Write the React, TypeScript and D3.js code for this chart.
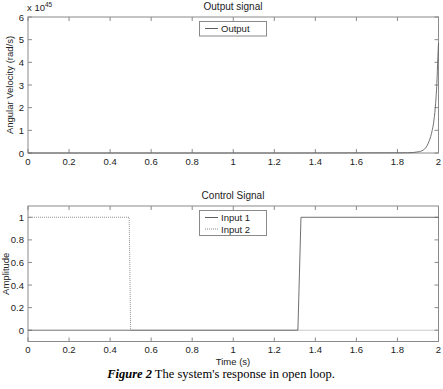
import React from "react";
import * as d3 from "d3";

const W = 443;
const H = 389;

// Output signal (angular velocity, in units of 1e45 rad/s)
const outTime = [0, 1.3, 1.85, 1.9, 1.926, 1.95, 1.966, 1.978, 1.986, 1.992, 1.997, 2.0];
const outValue = [0, 0, 0.01, 0.05, 0.13, 0.43, 0.87, 1.46, 2.19, 3.07, 4.25, 4.85];

// Control signals
const in1Time = [0, 1.315, 1.33, 2.0];
const in1Value = [0, 0, 1, 1];
const in2Time = [0, 0.493, 0.5, 2.0];
const in2Value = [1, 1, 0, 0];

const xTicks = [0, 0.2, 0.4, 0.6, 0.8, 1, 1.2, 1.4, 1.6, 1.8, 2];
const yTicksTop = [0, 1, 2, 3, 4, 5, 6];
const yTicksBottom = [0, 0.2, 0.4, 0.6, 0.8, 1];

const FONT = "Liberation Sans, Arial, sans-serif";
const AXIS = "#8a8a8a";
const LINE = "#606060";
const TEXT = "#222";

function Axes({ x, y, xTicks, yTicks, top, bottom, left, right, yFmt }: any) {
  const tl = 4;
  return (
    <g>
      <rect x={left} y={top} width={right - left} height={bottom - top} fill="none" stroke={AXIS} strokeWidth={1} />
      {xTicks.map((t: number) => (
        <g key={"x" + t}>
          <line x1={x(t)} x2={x(t)} y1={bottom} y2={bottom - tl} stroke={AXIS} />
          <line x1={x(t)} x2={x(t)} y1={top} y2={top + tl} stroke={AXIS} />
          <text x={x(t)} y={bottom + 11.5} textAnchor="middle" fontSize={9.5} fontFamily={FONT} fill={TEXT}>
            {d3.format("~g")(t)}
          </text>
        </g>
      ))}
      {yTicks.map((t: number) => (
        <g key={"y" + t}>
          <line x1={left} x2={left + tl} y1={y(t)} y2={y(t)} stroke={AXIS} />
          <line x1={right} x2={right - tl} y1={y(t)} y2={y(t)} stroke={AXIS} />
          <text x={left - 4} y={y(t) + 3.5} textAnchor="end" fontSize={9.5} fontFamily={FONT} fill={TEXT}>
            {yFmt(t)}
          </text>
        </g>
      ))}
    </g>
  );
}

export default function App() {
  const left = 28;
  const right = 438.5;

  const x = d3.scaleLinear().domain([0, 2]).range([left, right]);

  const t1 = 17, b1 = 153;
  const y1 = d3.scaleLinear().domain([0, 6]).range([b1, t1]);
  const t2 = 206, b2 = 341.5;
  const y2 = d3.scaleLinear().domain([-0.1, 1.1]).range([b2, t2]);

  const lineOut = d3.line<number>().x((_, i) => x(outTime[i])).y((v) => y1(v)).curve(d3.curveMonotoneX);
  const lineIn1 = d3.line<number>().x((_, i) => x(in1Time[i])).y((v) => y2(v));
  const lineIn2 = d3.line<number>().x((_, i) => x(in2Time[i])).y((v) => y2(v));

  return (
    <svg width={W} height={H} style={{ position: "absolute", left: 0, top: 0, background: "#fff" }}>
      <rect width={W} height={H} fill="#fff" />
      {/* Top plot */}
      <text x={233} y={10} textAnchor="middle" fontSize={10} fontFamily={FONT} fill={TEXT}>Output signal</text>
      <text x={27} y={11} fontSize={9.5} fontFamily={FONT} fill={TEXT}>
        x 10<tspan dy={-4} fontSize={6.5}>45</tspan>
      </text>
      <Axes x={x} y={y1} xTicks={xTicks} yTicks={yTicksTop} top={t1} bottom={b1} left={left} right={right} yFmt={d3.format("~g")} />
      <path d={lineOut(outValue) || ""} fill="none" stroke={LINE} strokeWidth={0.9} />
      <text transform={`translate(13,${(t1 + b1) / 2}) rotate(-90)`} textAnchor="middle" fontSize={9.5} fontFamily={FONT} fill={TEXT}>
        Angular Velocity (rad/s)
      </text>
      <g>
        <rect x={199.5} y={21.5} width={67} height={14.5} fill="#fff" stroke={AXIS} />
        <line x1={205} x2={218} y1={28.5} y2={28.5} stroke={LINE} />
        <text x={221} y={32} fontSize={9.5} fontFamily={FONT} fill={TEXT}>Output</text>
      </g>

      {/* Bottom plot */}
      <text x={233} y={199} textAnchor="middle" fontSize={10} fontFamily={FONT} fill={TEXT}>Control Signal</text>
      <Axes x={x} y={y2} xTicks={xTicks} yTicks={yTicksBottom} top={t2} bottom={b2} left={left} right={right} yFmt={d3.format("~g")} />
      <path d={lineIn2(in2Value) || ""} fill="none" stroke="#888" strokeWidth={0.9} strokeDasharray="1,1" />
      <path d={lineIn1(in1Value) || ""} fill="none" stroke={LINE} strokeWidth={0.9} />
      <text transform={`translate(9,${(t2 + b2) / 2}) rotate(-90)`} textAnchor="middle" fontSize={9.5} fontFamily={FONT} fill={TEXT}>
        Amplitude
      </text>
      <g>
        <rect x={199.5} y={210.5} width={67} height={25} fill="#fff" stroke={AXIS} />
        <line x1={205} x2={218} y1={217.5} y2={217.5} stroke={LINE} />
        <text x={221} y={221} fontSize={9.5} fontFamily={FONT} fill={TEXT}>Input 1</text>
        <line x1={205} x2={218} y1={229} y2={229} stroke="#888" strokeDasharray="1,1" />
        <text x={221} y={232.5} fontSize={9.5} fontFamily={FONT} fill={TEXT}>Input 2</text>
      </g>
      <text x={233} y={365} textAnchor="middle" fontSize={9.5} fontFamily={FONT} fill={TEXT}>Time (s)</text>

      {/* Caption */}
      <text x={221} y={378} textAnchor="middle" fontSize={12.5} fontFamily="Liberation Serif, Times New Roman, serif" fill="#000">
        <tspan fontStyle="italic" fontWeight="bold">Figure 2</tspan> The system's response in open loop.
      </text>
    </svg>
  );
}
